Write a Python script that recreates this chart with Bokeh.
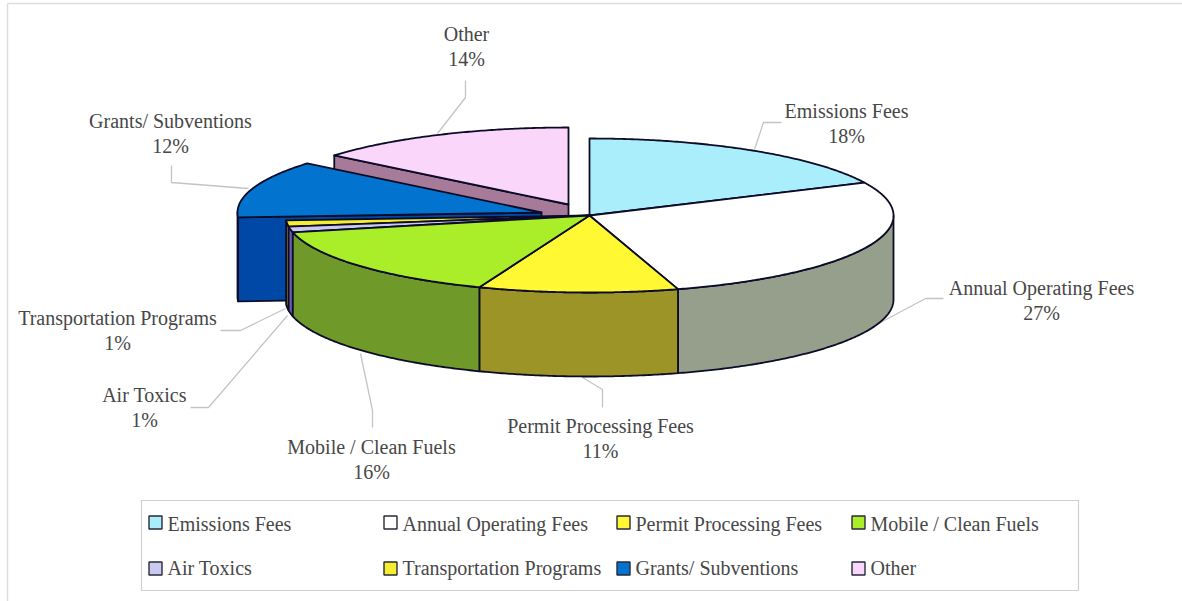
import numpy as np
from bokeh.plotting import figure
from bokeh.models import Range1d
from bokeh.core.properties import value
from bokeh.embed import file_html
from bokeh.resources import INLINE

categories = ["Emissions Fees", "Annual Operating Fees", "Permit Processing Fees",
              "Mobile / Clean Fuels", "Air Toxics", "Transportation Programs",
              "Grants/ Subventions", "Other"]
shares = [18.0, 27.3, 10.6, 15.6, 1.2, 1.3, 12.0, 14.0]

top_colors = ["#aaeefb", "#ffffff", "#fff833", "#aaee2a", "#c9c9f2", "#f5ee30", "#0273cf", "#fad6fa"]
wall_colors = ["#6f9aa3", "#959f8c", "#9c9426", "#6f9a2a", "#6a5fa8", "#9c9426", "#0048a6", "#a67a98"]
apex_x = [589, 589, 589, 589, 589, 589, 541, 568]
apex_y = [215, 215, 215, 215, 215, 215, 212, 204]
draw_order = [7, 6, 0, 1, 5, 4, 2, 3]

label_x = [846, 1041, 600, 371, 144, 117, 170, 466]
label_y = [110, 287, 425, 446, 394, 317, 120, 33]
leader_x = [[781, 763, 754], [943, 925, 880], [602, 602, 582], [372, 372, 360],
            [190, 208, 287], [220, 240, 285], [171, 171, 248], [465, 465, 437]]
leader_y = [[122, 122, 149], [298, 298, 322], [407, 389, 377], [427, 410, 353],
            [407, 407, 315], [330, 330, 308], [165, 182, 188], [80, 97, 133]]

legend_x = [155, 390, 623, 858]
legend_y = [522, 568]
legend_text_y = [523, 567]

RX, RY, DEPTH = 304, 77, 84
EDGE = "#0c0c28"


def rim(cx, cy, a0, a1):
    t = np.radians(np.linspace(a0, a1, max(int(abs(a1 - a0)) * 2, 2) + 1))
    return cx + RX * np.sin(t), cy - RY * np.cos(t)


edges = np.concatenate([[0], np.cumsum(shares)]) * 3.6
xs, ys, fills = [], [], []
for i in draw_order:
    a0, a1 = edges[i], edges[i + 1]
    cx, cy = apex_x[i], apex_y[i]
    exploded = cx != 589
    # cut face, seen only on the slices pulled out of the pie
    if exploded:
        ex, ey = rim(cx, cy, a0, a0)
        ex, ey = ex[0], ey[0]
        xs.append([cx, ex, ex, cx])
        ys.append([cy, ey, ey + DEPTH, cy + DEPTH])
        fills.append(wall_colors[i])
    # outer wall, front half only
    w0, w1 = max(a0, 90), min(a1, 270)
    if w1 > w0:
        wx, wy = rim(cx, cy, w0, w1)
        xs.append(list(wx) + list(wx[::-1]))
        ys.append(list(wy) + list(wy[::-1] + DEPTH))
        fills.append(wall_colors[i])
    tx, ty = rim(cx, cy, a0, a1)
    xs.append([cx] + list(tx))
    ys.append([cy] + list(ty))
    fills.append(top_colors[i])

p = figure(width=1182, height=601, output_backend="svg", toolbar_location=None,
           x_range=Range1d(0, 1182), y_range=Range1d(601, 0),
           x_axis_type=None, y_axis_type=None, min_border=0, outline_line_color=None)
p.grid.visible = False
p.background_fill_color = "#ffffff"
p.border_fill_color = "#ffffff"

p.segment([7, 7], [3, 3], [7, 1182], [601, 3], line_color="#dedede", line_width=1.5)

p.multi_line(leader_x, leader_y, line_color="#c4c4c4", line_width=1.3)
p.patches(xs, ys, fill_color=fills, line_color=EDGE, line_width=1.8, line_join="round")

FONT = value("Liberation Serif")
TEXT = "#474747"
SIZE = "20px"
pct = [f"{round(v)}%" for v in shares]
p.text(label_x, label_y, text=categories, text_font=FONT, text_font_size=SIZE,
       text_color=TEXT, text_align="center", text_baseline="middle")
p.text(label_x, [y + 25.5 for y in label_y], text=pct, text_font=FONT, text_font_size=SIZE,
       text_color=TEXT, text_align="center", text_baseline="middle")

# legend
p.quad(left=[141], right=[1078], top=[500], bottom=[590], fill_color="#ffffff",
       line_color="#cfcfcf", line_width=1.2)
sw_x = [legend_x[i % 4] for i in range(8)]
sw_y = [legend_y[i // 4] for i in range(8)]
txt_y = [legend_text_y[i // 4] for i in range(8)]
p.rect(sw_x, sw_y, width=13, height=13, fill_color=top_colors, line_color="#2a2a3a", line_width=1.4)
p.text([x + 12 for x in sw_x], txt_y, text=categories, text_font=FONT,
       text_font_size=SIZE, text_color=TEXT, text_align="left", text_baseline="middle")

open("out.html", "w").write(file_html(p, INLINE))
